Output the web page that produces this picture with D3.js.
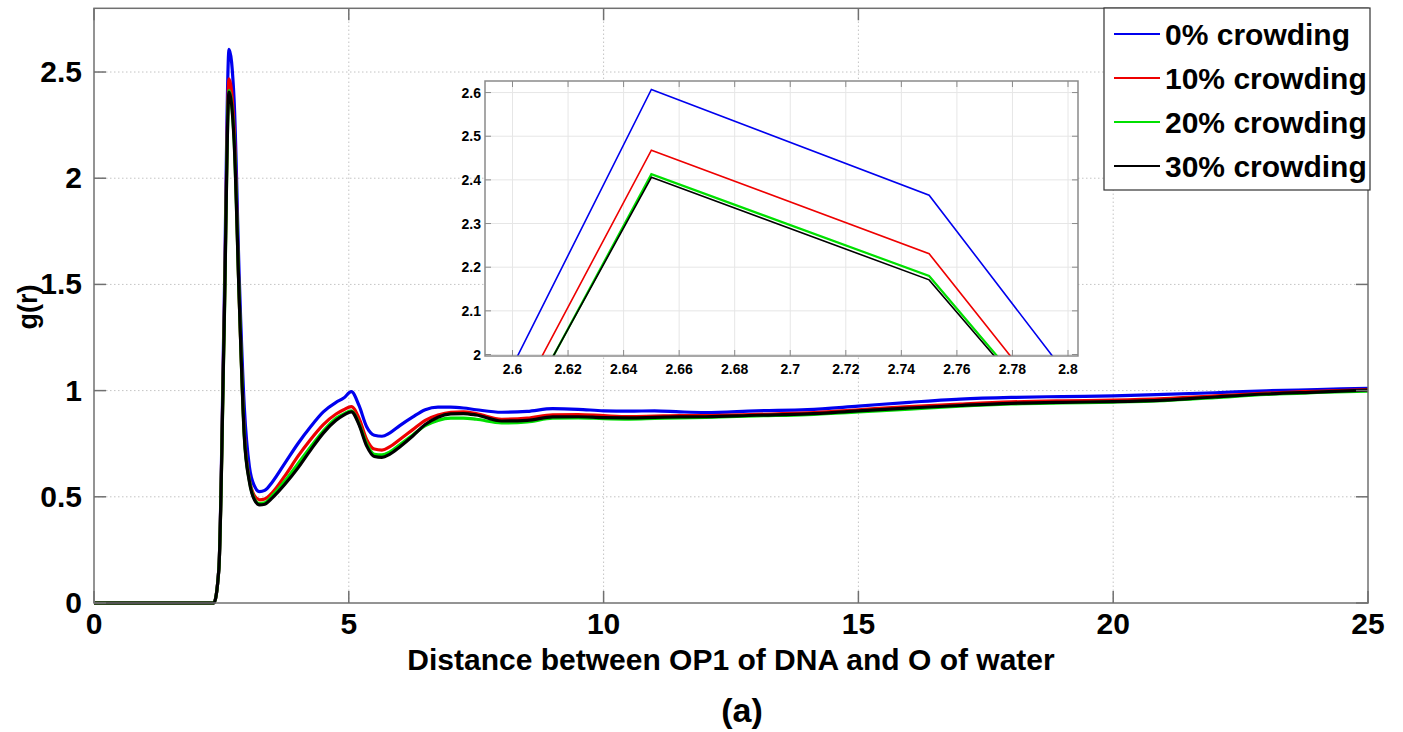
<!DOCTYPE html>
<html>
<head>
<meta charset="utf-8">
<script src="https://cdn.jsdelivr.net/npm/d3@7"></script>
<style>
  body { margin: 0; background: #fff; }
  svg text { font-family: "Liberation Sans", Arial, sans-serif; font-weight: bold; fill: #000; }
</style>
</head>
<body>
<div id="container"></div>
<script>
// distance r (same sampling for all runs)
var r = [0, 2.35, 2.45, 2.55, 2.65, 2.75, 2.85, 2.95, 3.05, 3.15, 3.25, 3.35, 3.5, 3.75, 4.0, 4.25, 4.5, 4.75, 4.9, 5.05, 5.2, 5.35, 5.5, 5.65, 5.8, 6.0, 6.25, 6.5, 6.75, 7.0, 7.25, 7.5, 8.0, 8.5, 9.0, 9.5, 10, 10.5, 11, 11.5, 12, 13, 14, 15, 16, 17, 18, 19, 20, 21, 22, 23, 24, 25];

// g(r) for each crowding level
var g0  = [0, 0, 0.16, 1.34, 2.607, 2.365, 1.535, 0.92, 0.64, 0.55, 0.524, 0.53, 0.57, 0.66, 0.75, 0.83, 0.9, 0.945, 0.965, 0.995, 0.93, 0.83, 0.79, 0.785, 0.8, 0.835, 0.875, 0.91, 0.922, 0.922, 0.918, 0.91, 0.898, 0.902, 0.915, 0.912, 0.905, 0.903, 0.905, 0.9, 0.897, 0.905, 0.91, 0.927, 0.945, 0.96, 0.968, 0.972, 0.975, 0.982, 0.99, 0.999, 1.005, 1.011];
var g10 = [0, 0, 0.16, 1.27, 2.468, 2.231, 1.43, 0.8, 0.58, 0.505, 0.486, 0.49, 0.52, 0.6, 0.69, 0.77, 0.84, 0.89, 0.91, 0.925, 0.87, 0.77, 0.725, 0.72, 0.735, 0.77, 0.815, 0.86, 0.885, 0.898, 0.9, 0.892, 0.865, 0.87, 0.886, 0.887, 0.882, 0.878, 0.88, 0.882, 0.882, 0.888, 0.895, 0.91, 0.925, 0.937, 0.947, 0.952, 0.955, 0.962, 0.975, 0.988, 0.997, 1.005];
var g20 = [0, 0, 0.16, 1.233, 2.413, 2.18, 1.43, 0.785, 0.575, 0.49, 0.468, 0.472, 0.505, 0.575, 0.655, 0.735, 0.81, 0.87, 0.89, 0.905, 0.845, 0.75, 0.7, 0.697, 0.71, 0.745, 0.79, 0.835, 0.86, 0.87, 0.87, 0.865, 0.848, 0.853, 0.87, 0.872, 0.868, 0.866, 0.869, 0.872, 0.874, 0.881, 0.887, 0.9, 0.913, 0.927, 0.937, 0.942, 0.946, 0.953, 0.967, 0.982, 0.991, 0.998];
var g30 = [0, 0, 0.16, 1.246, 2.406, 2.171, 1.428, 0.78, 0.57, 0.485, 0.462, 0.465, 0.495, 0.56, 0.635, 0.72, 0.8, 0.86, 0.885, 0.9, 0.84, 0.74, 0.69, 0.686, 0.7, 0.735, 0.785, 0.84, 0.875, 0.89, 0.892, 0.885, 0.857, 0.86, 0.876, 0.877, 0.873, 0.872, 0.874, 0.876, 0.877, 0.884, 0.89, 0.905, 0.918, 0.93, 0.94, 0.945, 0.948, 0.955, 0.97, 0.984, 0.993, 1.002];

var names  = ['0% crowding', '10% crowding', '20% crowding', '30% crowding'];
var colors = ['#0000ee', '#ee0000', '#00e000', '#000000'];

var xTicks = [0, 5, 10, 15, 20, 25];
var yTicks = [0, 0.5, 1, 1.5, 2, 2.5];
var insetXTicks = [2.6, 2.62, 2.64, 2.66, 2.68, 2.7, 2.72, 2.74, 2.76, 2.78, 2.8];
var insetYTicks = [2, 2.1, 2.2, 2.3, 2.4, 2.5, 2.6];

var w = 1403, h = 732;
var series = [g0, g10, g20, g30].map(function(vals, i) {
    return { name: names[i], color: colors[i],
             points: r.map(function(d, j) { return [d, vals[j]]; }) };
});

var svg = d3.select('#container').append('svg')
    .attr('width', w).attr('height', h);

// main axes
var x = d3.scaleLinear().domain([0, 25]).range([94, 1368]);
var y = d3.scaleLinear().domain([0, 2.8]).range([603, 8.3]);

// grid
svg.append('g').selectAll('line.gx')
   .data(xTicks.slice(1, -1)).enter().append('line')
   .attr('x1', x).attr('x2', x).attr('y1', y(0)).attr('y2', y(2.8))
   .attr('stroke', '#c4c4c4').attr('stroke-dasharray', '1.5,2.5');
svg.append('g').selectAll('line.gy')
   .data(yTicks.slice(1)).enter().append('line')
   .attr('y1', y).attr('y2', y).attr('x1', x(0)).attr('x2', x(25))
   .attr('stroke', '#c4c4c4').attr('stroke-dasharray', '1.5,2.5');

var mainLine = d3.line()
    .x(function(d) { return x(d[0]); })
    .y(function(d) { return y(d[1]); })
    .curve(d3.curveMonotoneX);

svg.append('g').selectAll('path')
   .data(series).enter().append('path')
   .attr('d', function(d) { return mainLine(d.points); })
   .attr('fill', 'none')
   .attr('stroke', function(d) { return d.color; })
   .attr('stroke-width', 3.2)
   .attr('stroke-linejoin', 'round');

// frame + ticks (matlab style, ticks inside on all sides)
var frame = svg.append('g');
frame.append('rect')
     .attr('x', x(0)).attr('y', y(2.8))
     .attr('width', x(25) - x(0)).attr('height', y(0) - y(2.8))
     .attr('fill', 'none').attr('stroke', '#707070').attr('stroke-width', 1.5);
xTicks.forEach(function(t) {
    frame.append('line').attr('x1', x(t)).attr('x2', x(t))
         .attr('y1', y(0)).attr('y2', y(0) - 12).attr('stroke', '#707070').attr('stroke-width', 1.5);
    frame.append('line').attr('x1', x(t)).attr('x2', x(t))
         .attr('y1', y(2.8)).attr('y2', y(2.8) + 12).attr('stroke', '#707070').attr('stroke-width', 1.5);
});
yTicks.forEach(function(t) {
    frame.append('line').attr('y1', y(t)).attr('y2', y(t))
         .attr('x1', x(0)).attr('x2', x(0) + 12).attr('stroke', '#707070').attr('stroke-width', 1.5);
    frame.append('line').attr('y1', y(t)).attr('y2', y(t))
         .attr('x1', x(25)).attr('x2', x(25) - 12).attr('stroke', '#707070').attr('stroke-width', 1.5);
});

svg.append('g').selectAll('text')
   .data(xTicks).enter().append('text')
   .attr('x', x).attr('y', 634)
   .attr('text-anchor', 'middle').style('font-size', '30px')
   .text(function(d) { return d; });
svg.append('g').selectAll('text')
   .data(yTicks).enter().append('text')
   .attr('x', 82).attr('y', function(d) { return y(d) + 10; })
   .attr('text-anchor', 'end').style('font-size', '30px')
   .text(function(d) { return d; });

svg.append('text')
   .attr('x', 731).attr('y', 670)
   .attr('text-anchor', 'middle').style('font-size', '30px')
   .text('Distance between OP1 of DNA and O of water');
svg.append('text')
   .attr('transform', 'translate(37,307) rotate(-90)')
   .attr('text-anchor', 'middle').style('font-size', '27px')
   .text('g(r)');
svg.append('text')
   .attr('x', 742).attr('y', 722)
   .attr('text-anchor', 'middle').style('font-size', '34px')
   .text('(a)');

// inset zoom on the first peak
var ix = d3.scaleLinear().domain([2.5901, 2.8036]).range([485, 1078]);
var iy = d3.scaleLinear().domain([1.9966, 2.6265]).range([356, 81]);

var inset = svg.append('g');
inset.append('rect')
     .attr('x', 485).attr('y', 81).attr('width', 1078 - 485).attr('height', 356 - 81)
     .attr('fill', '#fff');
inset.append('clipPath').attr('id', 'insetClip')
     .append('rect')
     .attr('x', 485).attr('y', 81).attr('width', 1078 - 485).attr('height', 356 - 81);

inset.selectAll('line.igx')
     .data(insetXTicks).enter().append('line')
     .attr('x1', ix).attr('x2', ix).attr('y1', 81).attr('y2', 356)
     .attr('stroke', '#e6e6e6');
inset.selectAll('line.igy')
     .data(insetYTicks).enter().append('line')
     .attr('y1', iy).attr('y2', iy).attr('x1', 485).attr('x2', 1078)
     .attr('stroke', '#e6e6e6');

var insetLine = d3.line()
    .x(function(d) { return ix(d[0]); })
    .y(function(d) { return iy(d[1]); });

inset.append('g').attr('clip-path', 'url(#insetClip)')
     .selectAll('path')
     .data(series).enter().append('path')
     .attr('d', function(d) { return insetLine(d.points); })
     .attr('fill', 'none')
     .attr('stroke', function(d) { return d.color; })
     .attr('stroke-width', function(d, i) { return i === 2 ? 2.2 : 1.6; });

inset.append('rect')
     .attr('x', 485).attr('y', 81).attr('width', 1078 - 485).attr('height', 356 - 81)
     .attr('fill', 'none').attr('stroke', '#8a8a8a').attr('stroke-width', 1.5);
insetXTicks.forEach(function(t) {
    inset.append('line').attr('x1', ix(t)).attr('x2', ix(t))
         .attr('y1', 356).attr('y2', 350).attr('stroke', '#8a8a8a');
    inset.append('line').attr('x1', ix(t)).attr('x2', ix(t))
         .attr('y1', 81).attr('y2', 87).attr('stroke', '#8a8a8a');
});
insetYTicks.forEach(function(t) {
    inset.append('line').attr('y1', iy(t)).attr('y2', iy(t))
         .attr('x1', 485).attr('x2', 491).attr('stroke', '#8a8a8a');
    inset.append('line').attr('y1', iy(t)).attr('y2', iy(t))
         .attr('x1', 1078).attr('x2', 1072).attr('stroke', '#8a8a8a');
});
inset.selectAll('text.ixl')
     .data(insetXTicks).enter().append('text')
     .attr('x', ix).attr('y', 374)
     .attr('text-anchor', 'middle').style('font-size', '14px')
     .text(function(d) { return d; });
inset.selectAll('text.iyl')
     .data(insetYTicks).enter().append('text')
     .attr('x', 481).attr('y', function(d) { return iy(d) + 5; })
     .attr('text-anchor', 'end').style('font-size', '14px')
     .text(function(d) { return d; });

// legend
var legend = svg.append('g');
legend.append('rect')
      .attr('x', 1104).attr('y', 8).attr('width', 266).attr('height', 182)
      .attr('fill', '#fff').attr('stroke', '#333').attr('stroke-width', 1.2);
var items = legend.selectAll('g.item')
      .data(series).enter().append('g')
      .attr('transform', function(d, i) { return 'translate(0,' + (34 + i * 44) + ')'; });
items.append('line')
     .attr('x1', 1114).attr('x2', 1160).attr('y1', 0).attr('y2', 0)
     .attr('stroke', function(d) { return d.color; }).attr('stroke-width', 2.2);
items.append('text')
     .attr('x', 1165).attr('y', 11)
     .style('font-size', '30px')
     .text(function(d) { return d.name; });
</script>
</body>
</html>
